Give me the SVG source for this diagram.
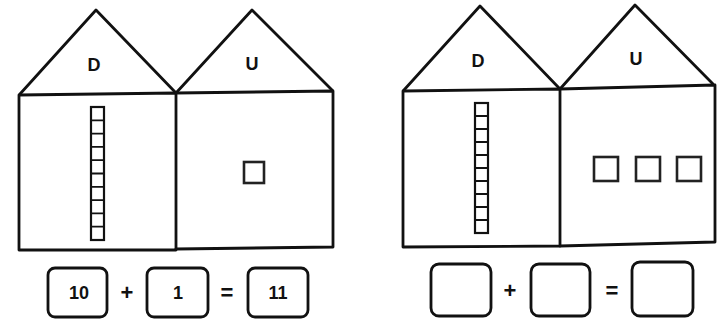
<svg xmlns="http://www.w3.org/2000/svg" width="722" height="323" viewBox="0 0 722 323">
<defs>
<style>
.ln{fill:none;stroke:#111;stroke-width:2.8;stroke-linejoin:round;stroke-linecap:round}
.box{fill:#fff;stroke:#111;stroke-width:2.8}
.cube{fill:#fff;stroke:#222;stroke-width:2.6}
.rod{fill:#fff;stroke:#111;stroke-width:2.2}
.tick{fill:none;stroke:#111;stroke-width:1.8}
.lbl{font-family:"Liberation Sans",Arial,sans-serif;font-weight:bold;font-size:18px;fill:#111;text-anchor:middle}
.num{font-family:"Liberation Sans",Arial,sans-serif;font-weight:bold;font-size:18px;fill:#111;text-anchor:middle}
.op{font-family:"Liberation Sans",Arial,sans-serif;font-weight:bold;font-size:22px;fill:#111;text-anchor:middle}
</style>
</defs>
<rect width="722" height="323" fill="#fff"/>

<g id="houseD1">
<path class="ln" d="M20,94 L96,10 L176,93"/>
<path class="ln" d="M19,95 L176,93 L176,250 L19,250 Z"/>
<text class="lbl" x="94" y="71">D</text>
<g id="rod1">
<rect class="rod" x="91" y="107" width="13" height="133"/>
<path class="tick" d="M91,120.3H104M91,133.6H104M91,146.9H104M91,160.2H104M91,173.5H104M91,186.8H104M91,200.1H104M91,213.4H104M91,226.7H104"/>
</g>
</g>

<g id="houseU1">
<path class="ln" d="M176,93 L252,10 L332,90"/>
<path class="ln" d="M176,93 L333,91 L333,247 L176,249"/>
<text class="lbl" x="252" y="70">U</text>
<rect class="cube" x="244" y="162" width="20" height="21"/>
</g>

<g id="eq1">
<rect class="box" x="48" y="268" width="59" height="49" rx="7"/>
<text class="num" x="79" y="299">10</text>
<text class="op" x="127" y="300">+</text>
<rect class="box" x="147" y="268" width="61" height="49" rx="7"/>
<text class="num" x="178" y="299">1</text>
<text class="op" x="227" y="300">=</text>
<rect class="box" x="248" y="268" width="60" height="49" rx="7"/>
<text class="num" x="278" y="299">11</text>
</g>

<g id="houseD2">
<path class="ln" d="M404,90 L480,6 L560,89"/>
<path class="ln" d="M403,91 L560,89 L560,246 L403,247 Z"/>
<text class="lbl" x="478" y="67">D</text>
<g id="rod2">
<rect class="rod" x="475" y="103" width="13" height="130"/>
<path class="tick" d="M475,116H488M475,129H488M475,142H488M475,155H488M475,168H488M475,181H488M475,194H488M475,207H488M475,220H488"/>
</g>
</g>

<g id="houseU2">
<path class="ln" d="M560,89 L635,5 L713,84"/>
<path class="ln" d="M560,89 L715,85 L715,242 L560,246"/>
<text class="lbl" x="636" y="65">U</text>
<rect class="cube" x="594" y="157" width="24" height="24"/>
<rect class="cube" x="636" y="157" width="24" height="24"/>
<rect class="cube" x="677" y="157" width="24" height="24"/>
</g>

<g id="eq2">
<rect class="box" x="431" y="264" width="60" height="52" rx="8"/>
<text class="op" x="510" y="298">+</text>
<rect class="box" x="531" y="264" width="59" height="52" rx="8"/>
<text class="op" x="612" y="298">=</text>
<rect class="box" x="632" y="262" width="61" height="54" rx="8"/>
</g>
</svg>
